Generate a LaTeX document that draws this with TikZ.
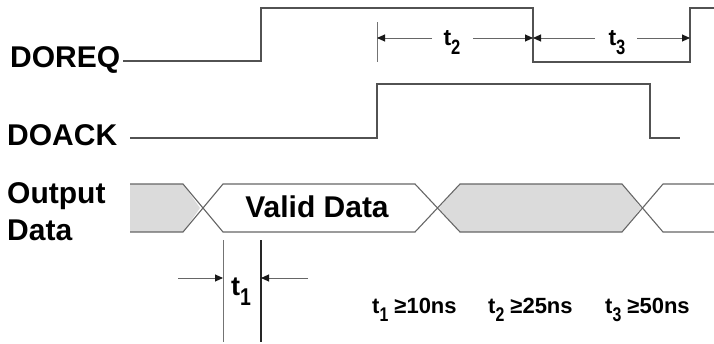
\documentclass[tikz,border=0pt]{standalone}
\usepackage{fontspec}
\setmainfont{Liberation Sans}
\usetikzlibrary{arrows.meta}
\newcommand\tsub[1]{\raisebox{-0.4em}{\scalebox{0.72}[0.9]{#1}}}
\begin{document}
\begin{tikzpicture}[x=1pt,y=-1pt,
  sig/.style={line width=1.3pt, draw=black!68, line join=miter},
  dat/.style={line width=1.1pt, draw=black!60},
  shade/.style={fill=black!14, draw=none},
  dimarrow/.style={line width=0.9pt, draw=black!60, -{Triangle[length=8pt,width=7pt,color=black!90]}},
  tick/.style={line width=1pt, draw=black!55},
  lbl/.style={inner sep=0pt, anchor=base west, font=\fontsize{30}{30}\selectfont\bfseries},
  tlbl/.style={inner sep=0pt, anchor=base, font=\fontsize{23}{23}\selectfont\bfseries},
  cond/.style={inner sep=0pt, anchor=base west, font=\fontsize{22}{22}\selectfont\bfseries}
]
\useasboundingbox (0,0) rectangle (714,343);

% signal labels
\node[lbl] (doreq) at (10,67) {DOREQ};
\node[lbl] (doack) at (7,145) {DOACK};
\node[lbl] (out1) at (7,203) {Output};
\node[lbl] (out2) at (7,240) {Data};

% DOREQ
\draw[sig] (123,61) -- (261,61) -- (261,8) -- (533,8) -- (533,62) -- (690,62) -- (690,8) -- (714,8);
% DOACK
\draw[sig] (130,138) -- (377,138) -- (377,84) -- (650,84) -- (650,138) -- (680,138);

% Output data shading
\fill[shade] (130,184) -- (183,184) -- (200,208) -- (183,232) -- (130,232) -- cycle;
\fill[shade] (460,184) -- (622,184) -- (641,208) -- (622,232) -- (460,232) -- (439,208) -- cycle;
% Output data lines
\draw[dat] (130,184) -- (183,184) -- (223,232) -- (415,232) -- (460,184) -- (622,184) -- (663,232) -- (714,232);
\draw[dat] (130,232) -- (183,232) -- (223,184) -- (415,184) -- (460,232) -- (622,232) -- (663,184) -- (714,184);
\node[inner sep=0pt, anchor=base, font=\fontsize{30}{30}\selectfont\bfseries] (valid) at (317,217) {Valid Data};

% t2 / t3 dimensions
\coordinate (k2a) at (377,22);
\coordinate (k2b) at (377,62);
\draw[tick] (k2a) -- (k2b);
\coordinate (a2L) at (377,38);
\coordinate (a2R) at (533,38);
\coordinate (a3R) at (690,38);
\node[tlbl] (t2) at (452,45) {t\tsub{2}};
\node[tlbl] (t3) at (617,45) {t\tsub{3}};
\coordinate (s2l) at (432,38);
\coordinate (s2r) at (473,38);
\coordinate (s3l) at (595,38);
\coordinate (s3r) at (637,38);
\draw[dimarrow] (s2l) -- (a2L);
\draw[dimarrow] (s2r) -- (a2R);
\draw[dimarrow] (s3l) -- (a2R);
\draw[dimarrow] (s3r) -- (a3R);

% t1 dimension
\coordinate (k1a) at (223,240);
\coordinate (k1b) at (223,342);
\coordinate (k1c) at (261,240);
\coordinate (k1d) at (261,342);
\draw[tick] (k1a) -- (k1b);
\draw[line width=1.3pt, draw=black!85] (k1c) -- (k1d);
\coordinate (s1l) at (178,278);
\coordinate (a1l) at (223,278);
\coordinate (s1r) at (308,278);
\coordinate (a1r) at (261,278);
\draw[dimarrow] (s1l) -- (a1l);
\draw[dimarrow] (s1r) -- (a1r);
\node[inner sep=0pt, anchor=base, font=\fontsize{27}{27}\selectfont\bfseries] (t1) at (241,295) {t\tsub{1}};

% conditions
\node[cond] (c1) at (372,313) {t\tsub{1} ≥10ns};
\node[cond] (c2) at (488,313) {t\tsub{2} ≥25ns};
\node[cond] (c3) at (605,313) {t\tsub{3} ≥50ns};
\end{tikzpicture}
\end{document}
